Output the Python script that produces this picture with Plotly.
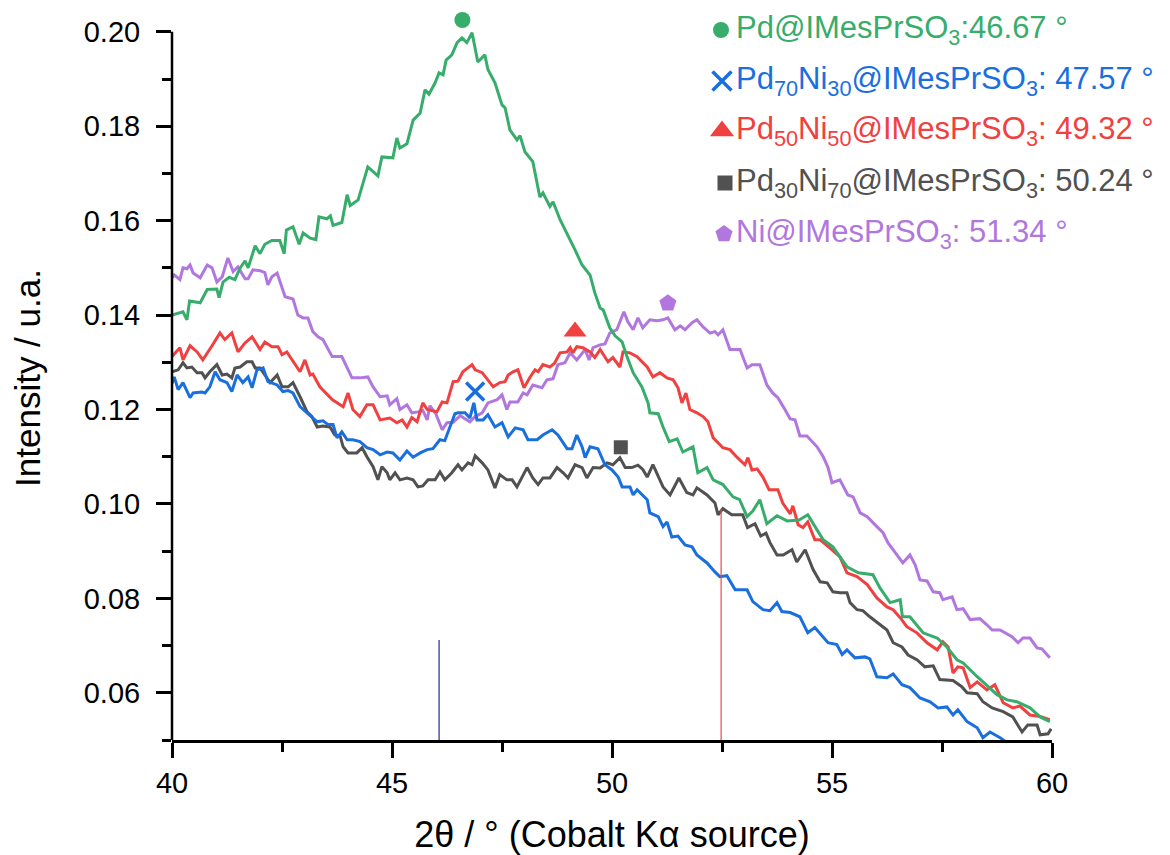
import plotly.graph_objects as go

# ---------------- data ----------------
pd_x = [40.00,40.25,40.34,40.40,40.64,40.80,41.02,41.07,41.16,41.30,41.43,41.55,41.66,41.73,41.89,42.00,42.11,42.27,42.45,42.55,42.60,42.75,42.89,42.98,43.14,43.27,43.34,43.52,43.60,43.66,43.86,43.98,44.05,44.23,44.45,44.68,44.77,45.02,45.11,45.18,45.34,45.48,45.64,45.75,45.84,45.98,46.07,46.16,46.23,46.36,46.48,46.59,46.70,46.82,46.95,47.11,47.18,47.34,47.50,47.57,47.68,47.84,47.91,48.02,48.20,48.36,48.43,48.59,48.66,48.82,49.16,49.32,49.50,49.61,49.73,49.80,49.95,50.07,50.23,50.34,50.48,50.68,50.82,50.86,51.05,51.16,51.30,51.48,51.61,51.84,51.95,52.16,52.30,52.52,52.75,52.90,53.07,53.20,53.36,53.52,53.75,53.98,54.25,54.45,54.66,54.80,55.02,55.34,55.60,55.93,56.09,56.32,56.55,56.60,56.77,57.07,57.39,57.61,57.84,57.98,58.30,58.75,58.98,59.20,59.50,59.73,59.95]
pd_y = [0.1400,0.1407,0.1390,0.1430,0.1426,0.1454,0.1455,0.1437,0.1470,0.1480,0.1475,0.1500,0.1515,0.1500,0.1547,0.1530,0.1550,0.1558,0.1558,0.1530,0.1580,0.1587,0.1550,0.1574,0.1563,0.1560,0.1608,0.1604,0.1610,0.1590,0.1596,0.1655,0.1632,0.1644,0.1714,0.1695,0.1735,0.1733,0.1775,0.1754,0.1763,0.1813,0.1828,0.1877,0.1868,0.1892,0.1913,0.1909,0.1940,0.1951,0.1977,0.1987,0.1977,0.1998,0.1936,0.1951,0.1920,0.1892,0.1845,0.1839,0.1792,0.1771,0.1780,0.1746,0.1725,0.1650,0.1659,0.1630,0.1640,0.1602,0.1538,0.1506,0.1485,0.1447,0.1415,0.1411,0.1373,0.1356,0.1343,0.1312,0.1278,0.1248,0.1214,0.1193,0.1191,0.1163,0.1132,0.1138,0.1110,0.1121,0.1066,0.1077,0.1051,0.1041,0.1015,0.1009,0.0973,0.0985,0.1009,0.0958,0.0975,0.0964,0.0966,0.0977,0.0945,0.0924,0.0909,0.0867,0.0854,0.0850,0.0822,0.0791,0.0797,0.0761,0.0761,0.0727,0.0716,0.0697,0.0670,0.0663,0.0634,0.0596,0.0585,0.0581,0.0568,0.0549,0.0539]

pd70_x = [40.00,40.05,40.14,40.25,40.41,40.48,40.68,40.75,40.86,40.98,41.09,41.25,41.36,41.48,41.61,41.73,41.82,41.93,42.07,42.18,42.39,42.52,42.64,42.75,42.91,43.07,43.18,43.30,43.43,43.55,43.66,43.75,43.86,43.98,44.11,44.27,44.43,44.57,44.73,44.89,45.02,45.18,45.34,45.48,45.64,45.80,45.93,46.09,46.20,46.32,46.43,46.50,46.66,46.77,46.86,46.93,47.07,47.18,47.34,47.50,47.64,47.80,47.98,48.09,48.30,48.43,48.64,48.77,48.98,49.09,49.20,49.32,49.39,49.50,49.68,49.84,50.00,50.14,50.23,50.41,50.48,50.57,50.80,50.86,51.05,51.16,51.25,51.36,51.50,51.66,51.82,51.93,52.16,52.34,52.45,52.61,52.80,53.07,53.20,53.43,53.59,53.75,53.86,54.05,54.27,54.45,54.61,54.91,55.11,55.23,55.34,55.52,55.75,55.86,56.02,56.25,56.39,56.59,56.77,57.00,57.23,57.41,57.61,57.75,57.86,58.07,58.30,58.43,58.59,58.82,58.98]
pd70_y = [0.1255,0.1269,0.1242,0.1257,0.1225,0.1235,0.1237,0.1235,0.1248,0.1280,0.1263,0.1257,0.1238,0.1273,0.1257,0.1269,0.1246,0.1284,0.1288,0.1259,0.1252,0.1238,0.1240,0.1235,0.1206,0.1193,0.1185,0.1174,0.1176,0.1168,0.1168,0.1140,0.1153,0.1136,0.1136,0.1132,0.1119,0.1115,0.1104,0.1110,0.1108,0.1093,0.1112,0.1099,0.1108,0.1115,0.1117,0.1136,0.1134,0.1163,0.1191,0.1193,0.1193,0.1182,0.1214,0.1178,0.1178,0.1189,0.1163,0.1172,0.1142,0.1161,0.1157,0.1136,0.1136,0.1146,0.1157,0.1146,0.1117,0.1117,0.1146,0.1121,0.1098,0.1121,0.1117,0.1083,0.1072,0.1057,0.1036,0.1036,0.1019,0.1030,0.1009,0.0981,0.0973,0.0952,0.0962,0.0930,0.0932,0.0913,0.0909,0.0892,0.0875,0.0856,0.0846,0.0848,0.0818,0.0818,0.0793,0.0776,0.0774,0.0791,0.0772,0.0770,0.0761,0.0727,0.0738,0.0706,0.0702,0.0681,0.0691,0.0674,0.0676,0.0672,0.0634,0.0632,0.0640,0.0617,0.0611,0.0589,0.0581,0.0568,0.0570,0.0553,0.0564,0.0539,0.0526,0.0505,0.0517,0.0505,0.0494]

pd50_x = [40.00,40.18,40.25,40.41,40.57,40.70,40.91,41.09,41.20,41.36,41.50,41.66,41.82,42.00,42.11,42.27,42.41,42.50,42.61,42.84,42.91,43.02,43.14,43.20,43.36,43.64,43.77,43.89,44.00,44.11,44.27,44.43,44.57,44.73,44.95,45.11,45.23,45.34,45.45,45.57,45.70,45.80,46.02,46.14,46.25,46.39,46.50,46.61,46.82,46.89,47.05,47.18,47.30,47.45,47.57,47.64,47.75,47.86,48.00,48.14,48.25,48.32,48.43,48.59,48.70,48.82,48.98,49.05,49.11,49.20,49.34,49.50,49.61,49.73,49.80,49.91,50.02,50.18,50.25,50.41,50.57,50.80,50.93,51.09,51.25,51.39,51.50,51.59,51.68,51.77,51.93,52.07,52.18,52.30,52.52,52.68,52.84,53.02,53.09,53.18,53.30,53.43,53.57,53.77,53.88,54.05,54.11,54.23,54.34,54.45,54.61,54.73,54.95,55.18,55.34,55.57,55.80,56.02,56.25,56.39,56.55,56.70,56.93,57.16,57.39,57.52,57.64,57.75,57.86,57.98,58.14,58.30,58.52,58.70,58.89,59.11,59.27,59.50,59.73,59.95]
pd50_y = [0.1312,0.1331,0.1305,0.1335,0.1322,0.1305,0.1335,0.1362,0.1348,0.1362,0.1322,0.1341,0.1354,0.1327,0.1343,0.1333,0.1333,0.1316,0.1322,0.1290,0.1280,0.1305,0.1273,0.1275,0.1248,0.1221,0.1214,0.1206,0.1235,0.1200,0.1185,0.1210,0.1210,0.1178,0.1182,0.1172,0.1178,0.1163,0.1183,0.1174,0.1214,0.1200,0.1195,0.1216,0.1214,0.1259,0.1260,0.1280,0.1295,0.1284,0.1278,0.1263,0.1248,0.1257,0.1259,0.1273,0.1280,0.1284,0.1246,0.1269,0.1284,0.1280,0.1295,0.1290,0.1299,0.1320,0.1322,0.1331,0.1320,0.1333,0.1331,0.1322,0.1310,0.1327,0.1316,0.1301,0.1310,0.1290,0.1322,0.1320,0.1312,0.1290,0.1269,0.1278,0.1267,0.1263,0.1246,0.1214,0.1235,0.1200,0.1193,0.1185,0.1174,0.1140,0.1119,0.1115,0.1099,0.1083,0.1098,0.1072,0.1074,0.1057,0.1030,0.1030,0.1002,0.0979,0.0996,0.0956,0.0950,0.0962,0.0924,0.0924,0.0907,0.0888,0.0854,0.0846,0.0829,0.0801,0.0782,0.0776,0.0759,0.0740,0.0727,0.0706,0.0691,0.0708,0.0697,0.0642,0.0655,0.0653,0.0611,0.0623,0.0606,0.0617,0.0579,0.0568,0.0572,0.0553,0.0550,0.0543]

pd30_x = [40.00,40.14,40.25,40.34,40.45,40.57,40.68,40.75,40.86,41.02,41.14,41.25,41.36,41.43,41.55,41.70,41.82,41.89,42.00,42.11,42.23,42.39,42.50,42.64,42.75,42.91,43.07,43.18,43.30,43.43,43.59,43.70,43.82,43.89,44.00,44.20,44.32,44.43,44.57,44.68,44.77,44.89,44.95,45.07,45.18,45.34,45.48,45.59,45.70,45.82,45.98,46.09,46.20,46.36,46.50,46.59,46.73,46.82,46.89,47.05,47.18,47.34,47.45,47.61,47.73,47.84,48.07,48.20,48.32,48.43,48.59,48.75,48.89,49.00,49.16,49.32,49.43,49.57,49.73,49.89,50.02,50.18,50.30,50.45,50.59,50.70,50.80,50.93,51.16,51.32,51.52,51.70,51.84,51.93,52.16,52.34,52.41,52.52,52.72,52.97,53.08,53.25,53.38,53.50,53.59,53.75,53.89,54.09,54.20,54.39,54.57,54.73,54.89,55.02,55.18,55.34,55.41,55.57,55.70,55.86,56.02,56.25,56.39,56.59,56.73,56.93,57.11,57.30,57.45,57.75,57.95,58.07,58.30,58.43,58.64,58.89,59.11,59.32,59.45,59.66,59.73,59.91,59.98]
pd30_y = [0.1280,0.1284,0.1299,0.1288,0.1290,0.1278,0.1278,0.1267,0.1280,0.1295,0.1273,0.1275,0.1267,0.1288,0.1290,0.1301,0.1301,0.1288,0.1288,0.1273,0.1257,0.1273,0.1248,0.1248,0.1257,0.1227,0.1195,0.1185,0.1163,0.1165,0.1163,0.1146,0.1144,0.1121,0.1108,0.1108,0.1119,0.1100,0.1079,0.1051,0.1079,0.1066,0.1051,0.1066,0.1051,0.1055,0.1051,0.1036,0.1038,0.1051,0.1051,0.1068,0.1051,0.1066,0.1083,0.1072,0.1087,0.1083,0.1102,0.1087,0.1072,0.1034,0.1062,0.1051,0.1051,0.1036,0.1077,0.1055,0.1041,0.1055,0.1055,0.1077,0.1066,0.1055,0.1083,0.1077,0.1055,0.1077,0.1076,0.1087,0.1083,0.1098,0.1077,0.1077,0.1082,0.1073,0.1057,0.1083,0.1036,0.1019,0.1055,0.1024,0.1019,0.1034,0.1019,0.1002,0.0977,0.0990,0.0977,0.0977,0.0950,0.0958,0.0932,0.0938,0.0918,0.0892,0.0892,0.0903,0.0877,0.0903,0.0861,0.0835,0.0833,0.0814,0.0812,0.0812,0.0791,0.0776,0.0774,0.0761,0.0750,0.0733,0.0706,0.0697,0.0680,0.0670,0.0655,0.0657,0.0628,0.0626,0.0613,0.0600,0.0598,0.0581,0.0568,0.0560,0.0549,0.0517,0.0532,0.0532,0.0511,0.0513,0.0524]

ni_x = [40.00,40.05,40.18,40.25,40.34,40.41,40.48,40.64,40.80,40.91,41.02,41.14,41.27,41.39,41.50,41.66,41.73,41.84,42.00,42.11,42.18,42.27,42.39,42.57,42.75,42.86,42.98,43.09,43.20,43.32,43.43,43.64,43.86,44.09,44.27,44.45,44.57,44.73,44.89,44.95,45.11,45.18,45.34,45.45,45.59,45.70,45.80,45.86,46.00,46.14,46.25,46.39,46.55,46.77,46.89,47.05,47.18,47.39,47.50,47.61,47.68,47.86,47.98,48.07,48.20,48.41,48.52,48.66,48.77,48.93,49.05,49.20,49.39,49.48,49.57,49.73,49.84,49.95,50.11,50.27,50.36,50.48,50.59,50.70,50.86,51.02,51.16,51.27,51.43,51.55,51.66,51.82,51.93,52.07,52.23,52.34,52.41,52.52,52.68,52.91,53.07,53.18,53.36,53.52,53.65,53.77,53.93,54.05,54.16,54.27,54.43,54.66,54.80,54.91,55.00,55.18,55.36,55.48,55.64,55.80,56.02,56.16,56.27,56.43,56.61,56.77,56.89,57.00,57.16,57.30,57.45,57.52,57.73,57.84,57.98,58.14,58.36,58.52,58.64,58.82,59.09,59.23,59.34,59.50,59.66,59.77,59.95]
ni_y = [0.1479,0.1485,0.1475,0.1500,0.1498,0.1506,0.1489,0.1479,0.1506,0.1500,0.1470,0.1481,0.1521,0.1492,0.1502,0.1477,0.1477,0.1496,0.1494,0.1490,0.1464,0.1481,0.1489,0.1439,0.1434,0.1400,0.1394,0.1394,0.1365,0.1354,0.1348,0.1312,0.1312,0.1267,0.1267,0.1269,0.1248,0.1227,0.1229,0.1210,0.1223,0.1200,0.1210,0.1193,0.1195,0.1198,0.1178,0.1208,0.1190,0.1157,0.1172,0.1173,0.1187,0.1174,0.1185,0.1193,0.1214,0.1221,0.1231,0.1200,0.1216,0.1216,0.1235,0.1231,0.1252,0.1246,0.1263,0.1265,0.1295,0.1299,0.1320,0.1305,0.1327,0.1305,0.1331,0.1337,0.1339,0.1362,0.1369,0.1407,0.1386,0.1369,0.1394,0.1373,0.1390,0.1388,0.1390,0.1394,0.1369,0.1377,0.1369,0.1384,0.1390,0.1375,0.1362,0.1365,0.1358,0.1369,0.1327,0.1327,0.1288,0.1295,0.1295,0.1252,0.1235,0.1225,0.1200,0.1180,0.1178,0.1144,0.1144,0.1121,0.1100,0.1077,0.1045,0.1051,0.1019,0.1015,0.0981,0.0973,0.0952,0.0939,0.0918,0.0897,0.0875,0.0892,0.0871,0.0839,0.0837,0.0814,0.0812,0.0797,0.0803,0.0776,0.0778,0.0755,0.0757,0.0744,0.0733,0.0733,0.0719,0.0706,0.0716,0.0716,0.0695,0.0693,0.0674]

# peak markers (x, y)
peak_names = ["Pd", "Pd70Ni30", "Pd50Ni50", "Pd30Ni70", "Ni"]
peak_x = [46.60, 46.89, 49.16, 50.20, 51.27]
peak_y = [0.2025, 0.1238, 0.1365, 0.1120, 0.1425]

# reference lines (x, top y)
ref_x = [46.07, 52.48]
ref_top = [0.0712, 0.0988]

legend_labels = [
    "Pd@IMesPrSO<sub>3</sub>:46.67 °",
    "Pd<sub>70</sub>Ni<sub>30</sub>@IMesPrSO<sub>3</sub>: 47.57 °",
    "Pd<sub>50</sub>Ni<sub>50</sub>@IMesPrSO<sub>3</sub>: 49.32 °",
    "Pd<sub>30</sub>Ni<sub>70</sub>@IMesPrSO<sub>3</sub>: 50.24 °",
    "Ni@IMesPrSO<sub>3</sub>: 51.34 °",
]

x_ticks = [40, 45, 50, 55, 60]
y_ticks = [0.06, 0.08, 0.10, 0.12, 0.14, 0.16, 0.18, 0.20]

# ---------------- styles / layout ----------------
GREEN, BLUE, RED, GREY, PURPLE = "#37AD6B", "#1A6FDF", "#F14040", "#515151", "#B177DE"
colors = [GREEN, BLUE, RED, GREY, PURPLE]
symbols = ["circle", "x-thin-open", "triangle-up", "square", "pentagon"]
msizes = [16, 18, 20, 14, 18]
lsizes = [16, 19, 21, 15, 18]

# The page adds an 8px body margin; the figure is sized and placed to compensate.
OFF = 8
FIG_W, FIG_H = 1170 - OFF, 855 - OFF
PLOT_L, PLOT_R, PLOT_T, PLOT_B = 172, 1052, 16, 740        # page pixels
PX_PER_UNIT = (693 - 32) / 0.14                             # y scale of reference
Y_LOW = 0.05
Y_HIGH = Y_LOW + (PLOT_B - PLOT_T) / PX_PER_UNIT

fig = go.Figure()

series = [(ni_x, ni_y, PURPLE), (pd30_x, pd30_y, GREY), (pd50_x, pd50_y, RED),
          (pd70_x, pd70_y, BLUE), (pd_x, pd_y, GREEN)]
for xs, ys, c in series:
    fig.add_trace(go.Scatter(x=xs, y=ys, mode="lines", line=dict(color=c, width=3),
                             showlegend=False, hoverinfo="skip"))

# reference sticks
fig.add_trace(go.Scatter(x=[ref_x[0], ref_x[0]], y=[Y_LOW, ref_top[0]], mode="lines",
                         line=dict(color="#26269a", width=1.2), showlegend=False))
fig.add_trace(go.Scatter(x=[ref_x[1], ref_x[1]], y=[Y_LOW, ref_top[1]], mode="lines",
                         line=dict(color="#E8474A", width=1.2), showlegend=False))

# peak markers
for i in range(5):
    mk = dict(symbol=symbols[i], size=msizes[i], color=colors[i])
    if symbols[i].endswith("open"):
        mk["line"] = dict(color=colors[i], width=3.5)
    fig.add_trace(go.Scatter(x=[peak_x[i]], y=[peak_y[i]], mode="markers", marker=mk,
                             cliponaxis=False, showlegend=False))

# legend keys on an overlay axis expressed in page pixels
leg_px = [721, 722, 722, 725, 724]
leg_py = [30, 81, 131, 183, 234]
for i in range(5):
    mk = dict(symbol=symbols[i], size=lsizes[i], color=colors[i])
    if symbols[i].endswith("open"):
        mk["line"] = dict(color=colors[i], width=3.5)
    fig.add_trace(go.Scatter(x=[leg_px[i]], y=[leg_py[i]], mode="markers", marker=mk,
                             xaxis="x2", yaxis="y2", cliponaxis=False, showlegend=False))

for i in range(5):
    fig.add_annotation(x=734, y=leg_py[i], xref="x2", yref="y2", text=legend_labels[i],
                       showarrow=False, xanchor="left", yanchor="middle",
                       font=dict(family="Liberation Sans, Arial", size=31, color=colors[i]))

# left axis line only up to 0.20
fig.add_shape(type="line", xref="paper", yref="y", x0=0, x1=0, y0=Y_LOW, y1=0.20,
              line=dict(color="black", width=2.5), layer="above")

axis_font = dict(family="Liberation Sans, Arial", size=29, color="black")
title_font = dict(family="Liberation Sans, Arial", size=35, color="black")
xtitle_font = dict(family="Liberation Sans, Arial", size=36, color="black")

fig.update_layout(
    width=FIG_W, height=FIG_H,
    margin=dict(l=PLOT_L - OFF, r=FIG_W - (PLOT_R - OFF), t=PLOT_T - OFF,
                b=FIG_H - (PLOT_B - OFF), pad=0),
    paper_bgcolor="white", plot_bgcolor="white",
    showlegend=False,
    xaxis=dict(range=[40, 60], tickvals=x_ticks, ticks="outside", ticklen=15, tickwidth=2.5,
               tickcolor="black", showline=True, linewidth=2.5, linecolor="black",
               showgrid=False, zeroline=False, tickfont=axis_font,
               minor=dict(dtick=2.5, tick0=40, ticks="outside", ticklen=9, tickwidth=2.5,
                          tickcolor="black", showgrid=False),
               title=dict(text="2θ / ° (Cobalt Kα source)", font=xtitle_font, standoff=26),
               automargin=False),
    yaxis=dict(range=[Y_LOW, Y_HIGH], tickvals=y_ticks, tickformat=".2f", ticks="outside",
               ticklen=15, tickwidth=2.5, tickcolor="black", showline=False,
               showgrid=False, zeroline=False, tickfont=axis_font, ticklabelstandoff=10,
               minor=dict(dtick=0.01, tick0=0.05, ticks="outside", ticklen=9, tickwidth=2.5,
                          tickcolor="black", showgrid=False),
               title=dict(text="Intensity / u.a.", font=title_font, standoff=32),
               automargin=False),
    xaxis2=dict(overlaying="x", range=[PLOT_L, PLOT_R], visible=False),
    yaxis2=dict(overlaying="y", range=[PLOT_B, PLOT_T], visible=False),
)

fig.write_html("out.html")
